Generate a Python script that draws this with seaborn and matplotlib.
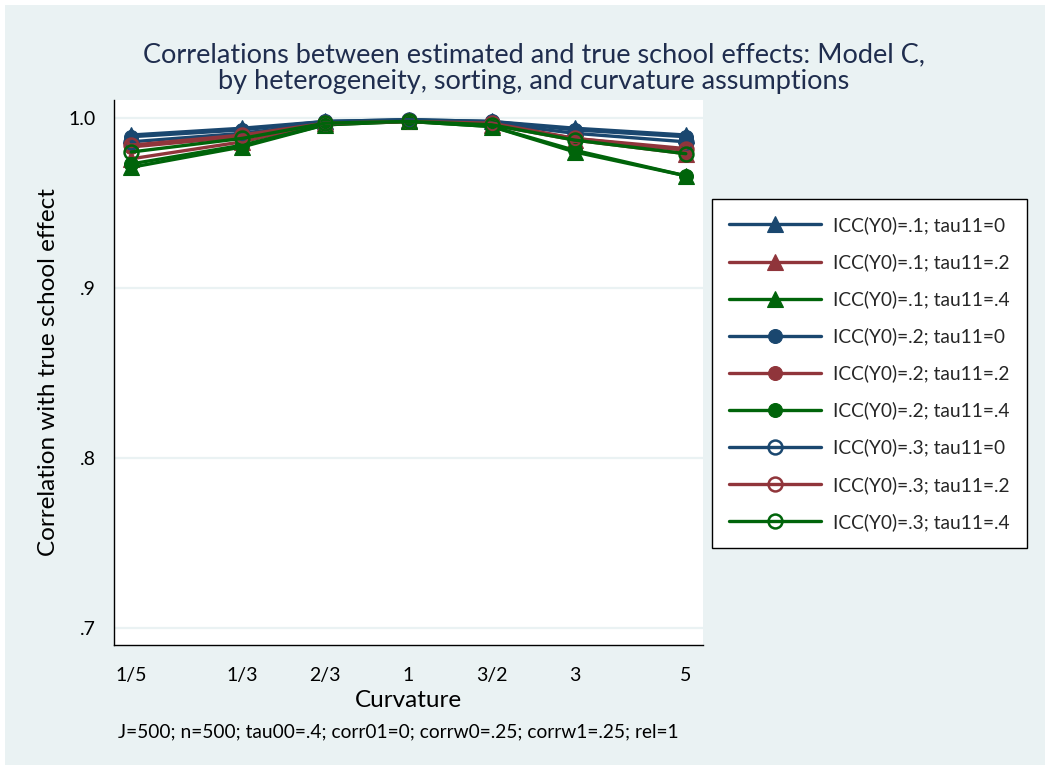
import matplotlib
matplotlib.use("Agg")
import matplotlib.pyplot as plt
from matplotlib.patches import Rectangle
import seaborn as sns
import pandas as pd

# Curvature settings and where each one sits on the horizontal axis
curv_labels = ["1/5", "1/3", "2/3", "1", "3/2", "3", "5"]
curv_x = [-10 / 3, -2, -1, 0, 1, 2, 10 / 3]

# Correlation with the true school effect, one list per ICC(Y0) / tau11 pair
icc1_tau0 = [0.990, 0.994, 0.998, 0.999, 0.998, 0.994, 0.990]
icc1_tau2 = [0.976, 0.986, 0.997, 0.998, 0.996, 0.987, 0.979]
icc1_tau4 = [0.971, 0.983, 0.996, 0.998, 0.995, 0.980, 0.966]
icc2_tau0 = [0.989, 0.993, 0.998, 0.999, 0.998, 0.993, 0.989]
icc2_tau2 = [0.983, 0.989, 0.997, 0.998, 0.996, 0.988, 0.981]
icc2_tau4 = [0.973, 0.984, 0.996, 0.998, 0.995, 0.981, 0.966]
icc3_tau0 = [0.986, 0.991, 0.997, 0.999, 0.997, 0.991, 0.986]
icc3_tau2 = [0.984, 0.990, 0.997, 0.998, 0.997, 0.988, 0.982]
icc3_tau4 = [0.980, 0.988, 0.997, 0.998, 0.996, 0.987, 0.979]

series_labels = [
    "ICC(Y0)=.1; tau11=0", "ICC(Y0)=.1; tau11=.2", "ICC(Y0)=.1; tau11=.4",
    "ICC(Y0)=.2; tau11=0", "ICC(Y0)=.2; tau11=.2", "ICC(Y0)=.2; tau11=.4",
    "ICC(Y0)=.3; tau11=0", "ICC(Y0)=.3; tau11=.2", "ICC(Y0)=.3; tau11=.4",
]
series_values = [icc1_tau0, icc1_tau2, icc1_tau4,
                 icc2_tau0, icc2_tau2, icc2_tau4,
                 icc3_tau0, icc3_tau2, icc3_tau4]

y_ticks = [0.7, 0.8, 0.9, 1.0]
y_tick_labels = [".7", ".8", ".9", "1.0"]

NAVY = "#1A476F"
MAROON = "#90353B"
GREEN = "#00640A"
BG = "#EAF2F3"
tau_colors = [NAVY, MAROON, GREEN]
icc_markers = [("^", True), ("o", True), ("o", False)]

sns.set_style("white")
plt.rcParams["font.family"] = ["Lato", "DejaVu Sans"]

fig = plt.figure(figsize=(10.53, 7.73), dpi=100, facecolor="white")
fig.patches.append(Rectangle((5 / 1053, 8 / 773), 1040 / 1053, 760 / 773,
                             transform=fig.transFigure, facecolor=BG,
                             edgecolor="none", zorder=-10))

ax = fig.add_axes([114 / 1053, 1 - 645 / 773, 589 / 1053, 545 / 773])
ax.set_facecolor("white")

rows = []
for lab, vals in zip(series_labels, series_values):
    for x, v in zip(curv_x, vals):
        rows.append({"series": lab, "x": x, "corr": v})
df = pd.DataFrame(rows)

for i, lab in enumerate(series_labels):
    color = tau_colors[i % 3]
    marker, filled = icc_markers[i // 3]
    ms = 12 if marker == "^" else 10
    sns.lineplot(data=df[df["series"] == lab], x="x", y="corr", ax=ax,
                 color=color, lw=2.4, marker=marker, markersize=ms,
                 markerfacecolor=color if filled else "none",
                 markeredgecolor=color, markeredgewidth=1.8 if not filled else 0.8,
                 label=lab, legend=False, zorder=3 + i)

ax.set_xlim(-3.54, 3.54)
ax.set_ylim(0.69, 1.0106)
ax.set_xticks(curv_x)
ax.set_xticklabels(curv_labels)
ax.set_yticks(y_ticks)
ax.set_yticklabels(y_tick_labels)
for y in y_ticks:
    ax.axhline(y, color=BG, lw=1.6, zorder=1)

for side in ["top", "right"]:
    ax.spines[side].set_visible(False)
for side in ["left", "bottom"]:
    ax.spines[side].set_color("black")
    ax.spines[side].set_linewidth(1.0)
ax.tick_params(axis="both", direction="out", length=8, width=1.0,
               color="black", labelsize=14, labelcolor="black", pad=5)
ax.tick_params(axis="x", pad=8)

ax.set_xlabel("Curvature", fontsize=17.5, color="black", labelpad=4)
ax.set_ylabel("Correlation with true school effect", fontsize=17.5,
              color="black", labelpad=7)

title_kw = dict(ha="center", va="center", fontsize=19.5, color="#1F2D4E")
fig.text(534 / 1053, 1 - 55 / 773,
         "Correlations between estimated and true school effects: Model C,",
         **title_kw)
fig.text(534 / 1053, 1 - 81 / 773,
         "by heterogeneity, sorting, and curvature assumptions", **title_kw)
fig.text(118 / 1053, 1 - 732 / 773,
         "J=500; n=500; tau00=.4; corr01=0; corrw0=.25; corrw1=.25; rel=1",
         ha="left", va="center", fontsize=13.8, color="black")

handles, labels = ax.get_legend_handles_labels()
leg = fig.legend(handles, labels, loc="upper left",
                 bbox_to_anchor=(712 / 1053, 1 - 199 / 773),
                 bbox_transform=fig.transFigure,
                 fontsize=13.8, handlelength=4.8, handletextpad=0.6,
                 labelspacing=1.0, borderpad=0.9, borderaxespad=0,
                 frameon=True, fancybox=False, edgecolor="black",
                 facecolor="white", framealpha=1)
leg.get_frame().set_linewidth(1.0)

fig.savefig("out.png", dpi=100, facecolor="white")
